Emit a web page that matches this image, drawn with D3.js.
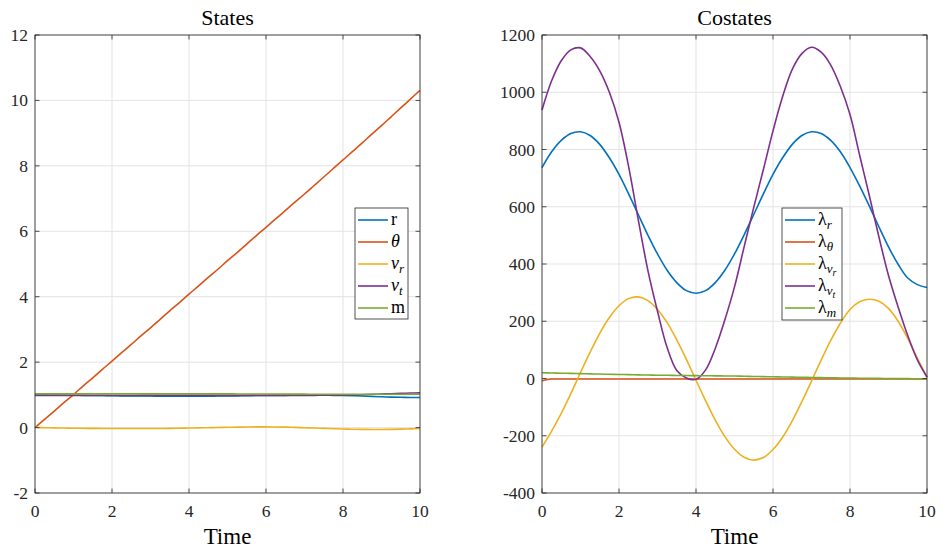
<!DOCTYPE html>
<html><head><meta charset="utf-8">
<script src="https://cdn.jsdelivr.net/npm/d3@7"></script>
<style>body{margin:0;background:#fff}svg{display:block}svg text{font-family:"Liberation Serif","DejaVu Serif",serif}</style>
</head><body><svg id="c" width="941" height="552"></svg>
<script>
// ---------------- data ----------------
const time = [0,0.25,0.5,0.75,1,1.25,1.5,1.75,2,2.25,2.5,2.75,3,3.25,3.5,3.75,4,4.25,4.5,4.75,5,5.25,5.5,5.75,6,6.25,6.5,6.75,7,7.25,7.5,7.75,8,8.25,8.5,8.75,9,9.25,9.5,9.75,10];

// States
const stateR     = [1.0,1.0,0.995,0.99,0.99,0.985,0.98,0.98,0.975,0.97,0.97,0.965,0.965,0.96,0.96,0.96,0.96,0.96,0.96,0.965,0.965,0.97,0.975,0.98,0.98,0.985,0.985,0.99,0.99,0.99,0.99,0.985,0.98,0.975,0.965,0.95,0.94,0.93,0.925,0.92,0.92];
const stateTheta = [0,0.25,0.5,0.76,1.01,1.27,1.52,1.78,2.03,2.29,2.54,2.8,3.05,3.31,3.57,3.82,4.08,4.33,4.59,4.84,5.1,5.35,5.61,5.87,6.12,6.38,6.63,6.89,7.14,7.4,7.66,7.92,8.18,8.44,8.7,8.97,9.23,9.5,9.77,10.04,10.31];
const stateVr    = [0,-0.005,-0.01,-0.015,-0.02,-0.022,-0.025,-0.027,-0.028,-0.03,-0.03,-0.03,-0.03,-0.028,-0.025,-0.02,-0.015,-0.01,-0.004,0.002,0.008,0.013,0.017,0.02,0.02,0.018,0.013,0.005,-0.005,-0.015,-0.025,-0.035,-0.043,-0.05,-0.055,-0.058,-0.058,-0.055,-0.048,-0.04,-0.03];
const stateVt    = [0.98,0.98,0.98,0.98,0.98,0.98,0.98,0.98,0.98,0.98,0.98,0.985,0.985,0.985,0.985,0.985,0.985,0.985,0.985,0.985,0.985,0.985,0.985,0.985,0.985,0.985,0.985,0.985,0.985,0.985,0.99,0.99,0.995,1.0,1.005,1.015,1.025,1.035,1.045,1.055,1.06];
const stateM     = [1.03,1.03,1.03,1.03,1.03,1.03,1.03,1.03,1.03,1.03,1.03,1.03,1.03,1.03,1.03,1.03,1.03,1.03,1.03,1.03,1.03,1.028,1.027,1.026,1.025,1.024,1.023,1.022,1.021,1.02,1.02,1.02,1.02,1.02,1.02,1.02,1.02,1.02,1.02,1.02,1.02];

// Costates
const lambdaR     = [737,792,832,856,862,849,818,771,713,645,573,501,435,378,335,307,298,307,335,378,435,502,573,645,713,771,818,849,862,856,832,792,737,673,603,530,460,399,351,328,318];
const lambdaTheta = [-8,-2,-2,-2,-2,-2,-2,-2,-2,-2,-2,-2,-2,-2,-2,-2,-2,-2,-2,-2,-2,-2,-2,-2,-2,-2,-2,-2,-2,-2,-2,-2,-2,-2,-2,-2,-2,-2,-2,-2,-2];
const lambdaVr    = [-240,-184,-122,-53,21,92,158,213,254,279,285,272,241,195,135,67,-6,-78,-145,-203,-247,-275,-285,-276,-248,-205,-148,-81,-9,64,133,193,241,268,277,270,245,200,140,70,5];
const lambdaVt    = [938,1040,1110,1148,1155,1125,1075,1000,895,740,555,378,235,108,28,2,-3,30,105,205,320,460,598,730,865,985,1080,1135,1157,1140,1095,1020,922,780,640,495,360,250,150,65,5];
const lambdaM     = [20,19.3,18.5,17.8,17,16.2,15.5,14.7,14,13.4,12.8,12.1,11.5,11.1,10.7,10.3,10,9.6,9.2,8.9,8.5,7.9,7.2,6.6,6,5.4,4.7,4.1,3.5,3,2.5,2,1.5,1.1,0.7,0.4,0,-0.3,-0.5,-0.8,-1];

// ticks
const xTicks = [0,2,4,6,8,10];
const statesYTicks = [-2,0,2,4,6,8,10,12];
const costatesYTicks = [-400,-200,0,200,400,600,800,1000,1200];

// labels (segments: text, italic, subscript level)
const statesLabels = [
  [{t:"r"}],
  [{t:"θ",i:1}],
  [{t:"v",i:1},{t:"r",i:1,s:1}],
  [{t:"v",i:1},{t:"t",i:1,s:1}],
  [{t:"m"}]
];
const costatesLabels = [
  [{t:"λ"},{t:"r",i:1,s:1}],
  [{t:"λ"},{t:"θ",i:1,s:1}],
  [{t:"λ"},{t:"v",i:1,s:1},{t:"r",i:1,s:2}],
  [{t:"λ"},{t:"v",i:1,s:1},{t:"t",i:1,s:2}],
  [{t:"λ"},{t:"m",i:1,s:1}]
];
const colors = ["#0072BD","#D95319","#EDB120","#7E2F8E","#77AC30"];

// ---------------- drawing ----------------
const svg = d3.select("#c");
svg.append("rect").attr("width",941).attr("height",552).attr("fill","#fff");
const AX = "#262626";

function panel(o){
  const x = d3.scaleLinear().domain([0,10]).range([o.x0,o.x1]);
  const y = d3.scaleLinear().domain(o.yDomain).range([o.y1,o.y0]);
  const g = svg.append("g");
  // grid
  g.selectAll(".gx").data(xTicks).join("line")
    .attr("x1",d=>x(d)).attr("x2",d=>x(d)).attr("y1",o.y0).attr("y2",o.y1)
    .attr("stroke","#e3e3e3").attr("stroke-width",1);
  g.selectAll(".gy").data(o.yTicks).join("line")
    .attr("y1",d=>y(d)).attr("y2",d=>y(d)).attr("x1",o.x0).attr("x2",o.x1)
    .attr("stroke","#e3e3e3").attr("stroke-width",1);
  // lines
  const line = d3.line().x((d,i)=>x(time[i])).y(d=>y(d)).curve(d3.curveCatmullRom.alpha(0.5));
  o.series.forEach((s,k)=>{
    g.append("path").datum(s).attr("d",line).attr("fill","none")
      .attr("stroke",colors[k]).attr("stroke-width",1.6).attr("stroke-linejoin","round");
  });
  // ticks (inside, all four sides)
  const tl = 4.5;
  xTicks.forEach(t=>{
    g.append("line").attr("x1",x(t)).attr("x2",x(t)).attr("y1",o.y1).attr("y2",o.y1-tl).attr("stroke",AX).attr("stroke-width",0.8);
    g.append("line").attr("x1",x(t)).attr("x2",x(t)).attr("y1",o.y0).attr("y2",o.y0+tl).attr("stroke",AX).attr("stroke-width",0.8);
    g.append("text").attr("x",x(t)).attr("y",o.y1+24).attr("text-anchor","middle")
      .attr("font-size",17.5).attr("fill",AX).text(t);
  });
  o.yTicks.forEach(t=>{
    g.append("line").attr("x1",o.x0).attr("x2",o.x0+tl).attr("y1",y(t)).attr("y2",y(t)).attr("stroke",AX).attr("stroke-width",0.8);
    g.append("line").attr("x1",o.x1).attr("x2",o.x1-tl).attr("y1",y(t)).attr("y2",y(t)).attr("stroke",AX).attr("stroke-width",0.8);
    g.append("text").attr("x",o.x0-7).attr("y",y(t)+6).attr("text-anchor","end")
      .attr("font-size",17.5).attr("fill",AX).text(t);
  });
  // box
  g.append("rect").attr("x",o.x0).attr("y",o.y0).attr("width",o.x1-o.x0).attr("height",o.y1-o.y0)
    .attr("fill","none").attr("stroke",AX).attr("stroke-width",0.8);
  // title & xlabel
  g.append("text").attr("x",(o.x0+o.x1)/2).attr("y",24.5).attr("text-anchor","middle")
    .attr("font-size",22).attr("fill","#000").text(o.title);
  g.append("text").attr("x",(o.x0+o.x1)/2).attr("y",544).attr("text-anchor","middle")
    .attr("font-size",23).attr("fill","#000").text("Time");
  // legend
  const L = o.legend;
  g.append("rect").attr("x",L.x).attr("y",L.y).attr("width",L.w).attr("height",L.h)
    .attr("fill","#fff").attr("stroke",AX).attr("stroke-width",0.8);
  o.labels.forEach((lab,k)=>{
    const ry = L.y + 12 + k*22;
    g.append("line").attr("x1",L.x+3).attr("x2",L.x+33).attr("y1",ry).attr("y2",ry)
      .attr("stroke",colors[k]).attr("stroke-width",1.6);
    const tx = g.append("text").attr("x",L.x+36).attr("y",ry+5)
      .attr("font-size",18).attr("fill","#000");
    let lvl = 0;
    lab.forEach(seg=>{
      const s = seg.s||0;
      const sp = tx.append("tspan").text(seg.t)
        .attr("font-style",seg.i?"italic":"normal")
        .attr("font-size", s===0?18:(s===1?13:10));
      const dyMap=[0,4,7];
      if (s!==lvl){ sp.attr("dy", dyMap[s]-dyMap[lvl]); lvl=s; }
    });
  });
}

panel({x0:35,x1:420,y0:35,y1:493,yDomain:[-2,12],yTicks:statesYTicks,
  series:[stateR,stateTheta,stateVr,stateVt,stateM],title:"States",
  labels:statesLabels, legend:{x:355,y:208,w:53,h:111}});
panel({x0:542,x1:927,y0:35,y1:493,yDomain:[-400,1200],yTicks:costatesYTicks,
  series:[lambdaR,lambdaTheta,lambdaVr,lambdaVt,lambdaM],title:"Costates",
  labels:costatesLabels, legend:{x:782,y:208,w:60,h:112}});
</script></body></html>
